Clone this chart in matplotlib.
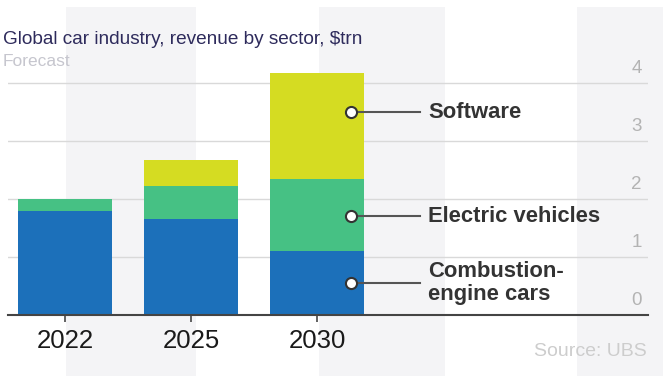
import numpy as np
import matplotlib.pyplot as plt
from matplotlib.patches import Rectangle
from matplotlib.transforms import blended_transform_factory

plt.rcParams['font.family'] = ['Liberation Sans', 'DejaVu Sans']

years = ['2022', '2025', '2030']
combustion = [1.8, 1.65, 1.1]
electric = [0.2, 0.57, 1.25]
software = [0.0, 0.45, 1.83]
sectors = ['Combustion-\nengine cars', 'Electric vehicles', 'Software']
label_y = [0.55, 1.7, 3.5]
yticks = [0, 1, 2, 3, 4]

c_blue = '#1c70ba'
c_green = '#46c184'
c_yellow = '#d5dc22'

W, H = 663, 376
fig = plt.figure(figsize=(W / 100, H / 100), dpi=100)

# alternating background columns
for x0, x1 in [(66, 196), (319, 445), (577, 663)]:
    fig.add_artist(Rectangle((x0 / W, 0), (x1 - x0) / W, (H - 7) / H,
                             transform=fig.transFigure, color='#f4f4f6',
                             zorder=0, lw=0))

ax = fig.add_axes([8 / W, 61 / H, 640 / W, 261 / H])
ax.set_facecolor('none')
ax.set_zorder(1)

x = np.arange(len(years))
bw = 0.75
ax.bar(x, combustion, bw, color=c_blue, zorder=3)
ax.bar(x, electric, bw, bottom=combustion, color=c_green, zorder=3)
bottom2 = np.array(combustion) + np.array(electric)
ax.bar(x, software, bw, bottom=bottom2, color=c_yellow, zorder=3)

ax.set_xlim(-0.452, 4.627)
ax.set_ylim(0, 4.5)

ax.set_yticks(yticks[1:])
ax.yaxis.grid(True, color='#d9d9d9', lw=1, zorder=1)
ax.tick_params(axis='y', length=0, labelleft=False)
for s in ['top', 'right', 'left']:
    ax.spines[s].set_visible(False)
ax.spines['bottom'].set_color('#444444')
ax.spines['bottom'].set_linewidth(1.5)
ax.spines['bottom'].set_zorder(4)

ax.set_xticks(x)
ax.set_xticklabels(years, fontsize=18.5, color='#1a1a1a')
ax.tick_params(axis='x', length=5, width=1.3, color='#555555', pad=5)

tr = blended_transform_factory(ax.transAxes, ax.transData)
for t in yticks:
    ax.text(0.99, t + 0.1, str(t), transform=tr, ha='right', va='bottom',
            fontsize=13.5, color='#b3b3b3')

# annotations on the 2030 bar
for lbl, yy in zip(sectors, label_y):
    ax.plot([2.27, 2.82], [yy, yy], color='#555555', lw=1.5, zorder=4)
    ax.plot([2.27], [yy], 'o', ms=8, mfc='white', mec='#333333', mew=1.5, zorder=5)
    ax.text(2.885, yy, lbl, ha='left', va='center', fontsize=15.8,
            fontweight='bold', color='#333333', linespacing=1.15, zorder=5)

fig.text(3 / W, 1 - 39 / H, 'Global car industry, revenue by sector, $trn',
         fontsize=13.7, color='#2e2b5c', ha='left', va='center')
fig.text(3 / W, 1 - 62 / H, 'Forecast', fontsize=12.5, color='#c6c6ce',
         ha='left', va='center')
fig.text(647 / W, 1 - 352 / H, 'Source: UBS', fontsize=14, color='#cdcdcd',
         ha='right', va='center')

fig.savefig('out.png', dpi=100)
